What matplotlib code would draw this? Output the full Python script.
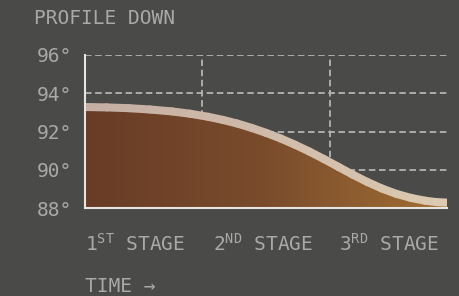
import numpy as np
import matplotlib.pyplot as plt
from matplotlib.collections import LineCollection
from matplotlib.colors import LinearSegmentedColormap

# ==============================================================================
# DATI
# ==============================================================================
time_pct = [0, 6, 12, 18, 24, 29, 34, 38, 42, 46, 50, 54, 58, 62, 66,
            70, 74, 78, 82, 86, 90, 94, 97, 100]
temp_deg = [93.28, 93.26, 93.22, 93.15, 93.05, 92.93, 92.77, 92.61, 92.42,
            92.19, 91.93, 91.64, 91.31, 90.95, 90.56, 90.15, 89.74, 89.36,
            89.02, 88.74, 88.53, 88.38, 88.31, 88.28]
y_ticks = [88, 90, 92, 94, 96]
y_tick_labels = ['88°', '90°', '92°', '94°', '96°']
stage_bounds = [32.3, 67.7]
stage_labels = [r'1$^{\mathregular{ST}}$ STAGE',
                r'2$^{\mathregular{ND}}$ STAGE',
                r'3$^{\mathregular{RD}}$ STAGE']
stage_label_pos = [0.0, 0.3536, 0.7017]
title = 'PROFILE DOWN'
x_title = 'TIME →'

# ==============================================================================
# STILE
# ==============================================================================
BG = '#4a4a48'
TXT = '#a9a9a7'
GRID = '#b4b4b2'
AXIS = '#e8e4e0'
FONT_SIZE = 14

plt.rcParams['font.family'] = ['DejaVu Sans Mono', 'DejaVu Sans']
plt.rcParams['lines.scale_dashes'] = False

fill_cmap = LinearSegmentedColormap.from_list('fill', ['#683c26', '#7a4c2c', '#a26e33'])
line_cmap = LinearSegmentedColormap.from_list('line', ['#c4ada3', '#dbc9b0'])

fig = plt.figure(figsize=(4.6, 2.96), dpi=100, facecolor=BG)
ax = fig.add_axes([85 / 460, 1 - 208 / 296, 362 / 460, 153 / 296])
ax.set_facecolor(BG)
ax.set_xlim(0, 100)
ax.set_ylim(88, 96)

# griglia tratteggiata (dietro all'area)
dash = (0, (4.7, 2.6))
for yv in y_ticks[1:]:
    ax.axhline(yv, color=GRID, lw=1.3, linestyle=dash, zorder=1)
for xv in stage_bounds:
    ax.axvline(xv, color=GRID, lw=1.3, linestyle=dash, zorder=1)

# area con gradiente orizzontale
poly = ax.fill_between(time_pct, temp_deg, 88, facecolor='none', edgecolor='none')
grad = np.linspace(0, 1, 256).reshape(1, -1)
im = ax.imshow(grad, extent=[0, 100, 88, 96], aspect='auto', cmap=fill_cmap,
               origin='lower', zorder=2, interpolation='bicubic')
im.set_clip_path(poly.get_paths()[0], transform=ax.transData)

# contorno chiaro con gradiente
pts = np.column_stack([time_pct, temp_deg])
segs = np.stack([pts[:-1], pts[1:]], axis=1)
mids = (pts[:-1, 0] + pts[1:, 0]) / 200
lc = LineCollection(segs, colors=line_cmap(mids), linewidths=5.8,
                    capstyle='round', zorder=3)
ax.add_collection(lc)

# assi
for s in ['top', 'right']:
    ax.spines[s].set_visible(False)
for s in ['left', 'bottom']:
    ax.spines[s].set_color(AXIS)
    ax.spines[s].set_linewidth(1.5)
    ax.spines[s].set_zorder(5)

ax.set_yticks(y_ticks)
ax.set_yticklabels(y_tick_labels)
ax.tick_params(axis='y', length=0, pad=9.5, labelsize=FONT_SIZE, labelcolor=TXT)
ax.set_xticks([])

for lab, xp in zip(stage_labels, stage_label_pos):
    ax.text(xp, -0.235, lab, transform=ax.transAxes, ha='left', va='center',
            fontsize=FONT_SIZE, color=TXT)

fig.text(34 / 460, 1 - 18 / 296, title, ha='left', va='center',
         fontsize=FONT_SIZE, color=TXT)
fig.text(85 / 460, 1 - 287 / 296, x_title, ha='left', va='center',
         fontsize=FONT_SIZE, color=TXT)

fig.savefig('out.png', dpi=100, facecolor=BG)
